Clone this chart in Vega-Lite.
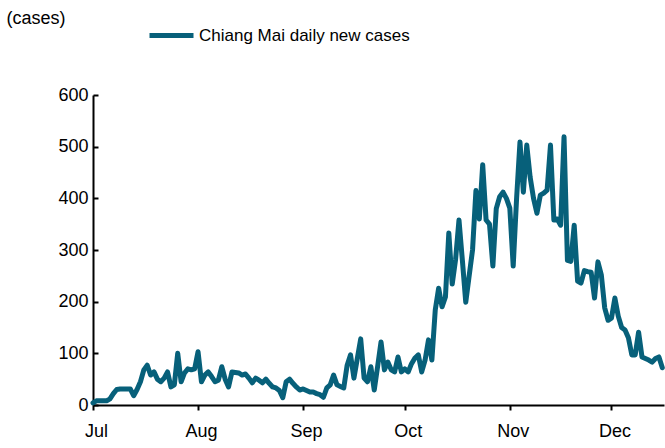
{
  "$schema": "https://vega.github.io/schema/vega-lite/v6.json",
  "width": 571,
  "height": 310,
  "autosize": "none",
  "padding": {"left": 93, "top": 95, "right": 1, "bottom": 43},
  "background": "white",
  "config": {"view": {"stroke": null}, "font": "Liberation Sans"},
  "data": {"values": [
    {"date":"2021-07-01","cases":4},{"date":"2021-07-02","cases":8},{"date":"2021-07-03","cases":8},{"date":"2021-07-04","cases":8},{"date":"2021-07-05","cases":8},{"date":"2021-07-06","cases":12},{"date":"2021-07-07","cases":22},{"date":"2021-07-08","cases":30},{"date":"2021-07-09","cases":31},{"date":"2021-07-10","cases":31},{"date":"2021-07-11","cases":31},{"date":"2021-07-12","cases":31},{"date":"2021-07-13","cases":18},{"date":"2021-07-14","cases":30},{"date":"2021-07-15","cases":45},{"date":"2021-07-16","cases":68},{"date":"2021-07-17","cases":77},{"date":"2021-07-18","cases":58},{"date":"2021-07-19","cases":64},{"date":"2021-07-20","cases":50},{"date":"2021-07-21","cases":45},{"date":"2021-07-22","cases":52},{"date":"2021-07-23","cases":64},{"date":"2021-07-24","cases":35},{"date":"2021-07-25","cases":39},{"date":"2021-07-26","cases":100},{"date":"2021-07-27","cases":45},{"date":"2021-07-28","cases":62},{"date":"2021-07-29","cases":70},{"date":"2021-07-30","cases":68},{"date":"2021-07-31","cases":70},
    {"date":"2021-08-01","cases":103},{"date":"2021-08-02","cases":45},{"date":"2021-08-03","cases":58},{"date":"2021-08-04","cases":64},{"date":"2021-08-05","cases":55},{"date":"2021-08-06","cases":45},{"date":"2021-08-07","cases":48},{"date":"2021-08-08","cases":74},{"date":"2021-08-09","cases":50},{"date":"2021-08-10","cases":35},{"date":"2021-08-11","cases":64},{"date":"2021-08-12","cases":63},{"date":"2021-08-13","cases":62},{"date":"2021-08-14","cases":58},{"date":"2021-08-15","cases":60},{"date":"2021-08-16","cases":52},{"date":"2021-08-17","cases":43},{"date":"2021-08-18","cases":52},{"date":"2021-08-19","cases":48},{"date":"2021-08-20","cases":43},{"date":"2021-08-21","cases":50},{"date":"2021-08-22","cases":42},{"date":"2021-08-23","cases":35},{"date":"2021-08-24","cases":33},{"date":"2021-08-25","cases":28},{"date":"2021-08-26","cases":14},{"date":"2021-08-27","cases":45},{"date":"2021-08-28","cases":50},{"date":"2021-08-29","cases":42},{"date":"2021-08-30","cases":35},{"date":"2021-08-31","cases":29},
    {"date":"2021-09-01","cases":31},{"date":"2021-09-02","cases":28},{"date":"2021-09-03","cases":25},{"date":"2021-09-04","cases":25},{"date":"2021-09-05","cases":22},{"date":"2021-09-06","cases":20},{"date":"2021-09-07","cases":15},{"date":"2021-09-08","cases":33},{"date":"2021-09-09","cases":39},{"date":"2021-09-10","cases":58},{"date":"2021-09-11","cases":39},{"date":"2021-09-12","cases":36},{"date":"2021-09-13","cases":33},{"date":"2021-09-14","cases":77},{"date":"2021-09-15","cases":97},{"date":"2021-09-16","cases":52},{"date":"2021-09-17","cases":90},{"date":"2021-09-18","cases":128},{"date":"2021-09-19","cases":52},{"date":"2021-09-20","cases":45},{"date":"2021-09-21","cases":74},{"date":"2021-09-22","cases":29},{"date":"2021-09-23","cases":75},{"date":"2021-09-24","cases":122},{"date":"2021-09-25","cases":68},{"date":"2021-09-26","cases":83},{"date":"2021-09-27","cases":68},{"date":"2021-09-28","cases":64},{"date":"2021-09-29","cases":93},{"date":"2021-09-30","cases":64},
    {"date":"2021-10-01","cases":70},{"date":"2021-10-02","cases":64},{"date":"2021-10-03","cases":80},{"date":"2021-10-04","cases":91},{"date":"2021-10-05","cases":97},{"date":"2021-10-06","cases":64},{"date":"2021-10-07","cases":87},{"date":"2021-10-08","cases":126},{"date":"2021-10-09","cases":87},{"date":"2021-10-10","cases":184},{"date":"2021-10-11","cases":226},{"date":"2021-10-12","cases":190},{"date":"2021-10-13","cases":209},{"date":"2021-10-14","cases":333},{"date":"2021-10-15","cases":234},{"date":"2021-10-16","cases":282},{"date":"2021-10-17","cases":358},{"date":"2021-10-18","cases":280},{"date":"2021-10-19","cases":199},{"date":"2021-10-20","cases":250},{"date":"2021-10-21","cases":300},{"date":"2021-10-22","cases":415},{"date":"2021-10-23","cases":360},{"date":"2021-10-24","cases":465},{"date":"2021-10-25","cases":358},{"date":"2021-10-26","cases":350},{"date":"2021-10-27","cases":269},{"date":"2021-10-28","cases":380},{"date":"2021-10-29","cases":403},{"date":"2021-10-30","cases":412},{"date":"2021-10-31","cases":400},
    {"date":"2021-11-01","cases":381},{"date":"2021-11-02","cases":269},{"date":"2021-11-03","cases":400},{"date":"2021-11-04","cases":509},{"date":"2021-11-05","cases":412},{"date":"2021-11-06","cases":503},{"date":"2021-11-07","cases":441},{"date":"2021-11-08","cases":400},{"date":"2021-11-09","cases":371},{"date":"2021-11-10","cases":406},{"date":"2021-11-11","cases":410},{"date":"2021-11-12","cases":416},{"date":"2021-11-13","cases":503},{"date":"2021-11-14","cases":358},{"date":"2021-11-15","cases":360},{"date":"2021-11-16","cases":348},{"date":"2021-11-17","cases":519},{"date":"2021-11-18","cases":280},{"date":"2021-11-19","cases":278},{"date":"2021-11-20","cases":348},{"date":"2021-11-21","cases":240},{"date":"2021-11-22","cases":236},{"date":"2021-11-23","cases":260},{"date":"2021-11-24","cases":258},{"date":"2021-11-25","cases":257},{"date":"2021-11-26","cases":207},{"date":"2021-11-27","cases":277},{"date":"2021-11-28","cases":252},{"date":"2021-11-29","cases":188},{"date":"2021-11-30","cases":164},
    {"date":"2021-12-01","cases":168},{"date":"2021-12-02","cases":207},{"date":"2021-12-03","cases":172},{"date":"2021-12-04","cases":150},{"date":"2021-12-05","cases":145},{"date":"2021-12-06","cases":130},{"date":"2021-12-07","cases":97},{"date":"2021-12-08","cases":97},{"date":"2021-12-09","cases":141},{"date":"2021-12-10","cases":93},{"date":"2021-12-11","cases":90},{"date":"2021-12-12","cases":87},{"date":"2021-12-13","cases":83},{"date":"2021-12-14","cases":90},{"date":"2021-12-15","cases":93},{"date":"2021-12-16","cases":72}
  ]},
  "mark": {"type": "line", "strokeWidth": 5, "strokeJoin": "round", "strokeCap": "round"},
  "encoding": {
    "x": {
      "field": "date", "type": "temporal",
      "scale": {"domain": [{"year": 2021, "month": 7, "date": 1}, {"year": 2021, "month": 12, "date": 16, "hours": 12}]},
      "axis": {
        "title": null, "format": "%b", "tickCount": {"interval": "month", "step": 1},
        "grid": false, "domainColor": "black", "domainWidth": 2, "tickColor": "black", "tickWidth": 2, "tickSize": 5,
        "labelFont": "Liberation Sans", "labelFontSize": 18, "labelColor": "black", "labelPadding": 12, "labelOffset": 3,
        "labelFlush": false
      }
    },
    "y": {
      "field": "cases", "type": "quantitative",
      "scale": {"domain": [0, 600]},
      "axis": {
        "values": [0, 100, 200, 300, 400, 500, 600],
        "title": "(cases)", "titleAngle": 0, "titleX": -87, "titleY": -77, "titleAlign": "left", "titleBaseline": "middle",
        "titleFont": "Liberation Sans", "titleFontSize": 18, "titleFontWeight": "normal", "titleColor": "black",
        "grid": false, "domainColor": "black", "domainWidth": 2, "tickColor": "black", "tickWidth": 2, "tickSize": -5,
        "labelFont": "Liberation Sans", "labelFontSize": 18, "labelColor": "black", "labelPadding": 10
      }
    },
    "color": {
      "datum": "Chiang Mai daily new cases",
      "scale": {"range": ["#07607a"]},
      "legend": {
        "title": null, "orient": "none", "legendX": 54, "legendY": -84,
        "symbolType": "stroke", "symbolSize": 1936, "symbolStrokeWidth": 5,
        "labelFont": "Liberation Sans", "labelFontSize": 17, "labelColor": "black", "labelOffset": 3, "labelLimit": 0
      }
    }
  }
}
